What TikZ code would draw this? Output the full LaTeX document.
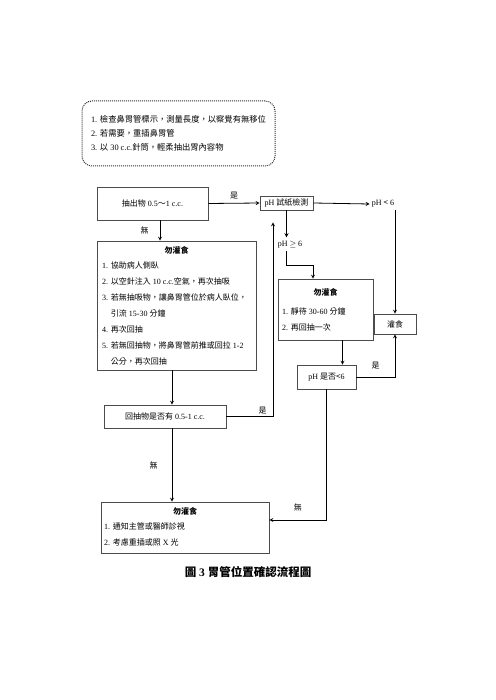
\documentclass[tikz,border=0pt]{standalone}
\usepackage{fontspec}
\setmainfont{Liberation Serif}
\newfontfamily\cjkfont{Noto Sans CJK TC}
\newcommand{\zh}[1]{{\cjkfont #1}}
\usetikzlibrary{positioning,arrows}

\begin{document}
\begin{tikzpicture}[x=1pt, y=-1pt,
    font=\fontsize{8}{10}\selectfont,
    box/.style={draw=black!70, line width=0.6pt, inner sep=0pt, align=center},
    dotbox/.style={draw=black!80, densely dotted, line width=1pt, rounded corners=10pt, align=left, inner sep=0pt},
    title/.style={font=\fontsize{8}{10}\selectfont\bfseries, inner sep=0pt},
    list/.style={anchor=north west, align=left, inner sep=0pt, font=\fontsize{8}{16}\selectfont},
    lbl/.style={inner sep=2pt},
    arrow/.style={->, >=stealth, line width=0.8pt}
]
    \fill[white] (0,0) rectangle (495,700);
    \useasboundingbox (0,0) rectangle (495,700);

    % steps before aspirating
    \node[dotbox, minimum width=193, minimum height=65, font=\fontsize{8.3}{14}\selectfont] (prep) at (178.5,133.5)
        {1. \zh{檢查鼻胃管標示，測量長度，以察覺有無移位}\\
         2. \zh{若需要，重插鼻胃管}\\
         3. \zh{以} 30 c.c.\zh{針筒，輕柔抽出胃內容物}};

    % main boxes
    \node[box, minimum width=111, minimum height=33] (aspirate) at (152.5,203.5) {\zh{抽出物} 0.5\zh{～}1 c.c.};
    \node[box, minimum width=53, minimum height=14] (phtest) at (286.5,203) {pH \zh{試紙檢測}};
    \node[lbl] (phlow) at (383,204) {pH \zh{<} 6};
    \node[lbl] (phhigh) at (290,245) {pH $\geq$ 6};
    \node[box, minimum width=42, minimum height=20] (feed) at (395,324) {\zh{灌食}};
    \node[box, minimum width=59, minimum height=24] (recheck) at (326.5,377) {pH \zh{是否<}6};
    \node[box, minimum width=122, minimum height=23] (reaspirate) at (165,416.5) {\zh{回抽物是否有} 0.5-1 c.c.};

    % no feeding: reposition
    \node[box, minimum width=159, minimum height=129] (hold1) at (176.5,305.5) {};
    \node[title, below=6pt of hold1.north] (hold1t) {\zh{勿灌食}};
    \node[list] (hold1l) at (102,261.5)
        {1. \zh{協助病人側臥}\\
         2. \zh{以空針注入} 10 c.c.\zh{空氣，再次抽吸}\\
         3. \zh{若無抽吸物，讓鼻胃管位於病人臥位，}\\
         \phantom{3. }\zh{引流} 15-30 \zh{分鐘}\\
         4. \zh{再次回抽}\\
         5. \zh{若無回抽物，將鼻胃管前推或回拉} 1-2\\
         \phantom{5. }\zh{公分，再次回抽}};

    % no feeding: wait
    \node[box, minimum width=95, minimum height=61] (hold2) at (325.5,309.5) {};
    \node[title, below=10pt of hold2.north] (hold2t) {\zh{勿灌食}};
    \node[list] (hold2l) at (282,307.5)
        {1. \zh{靜待} 30-60 \zh{分鐘}\\
         2. \zh{再回抽一次}};

    % no feeding: report
    \node[box, minimum width=168, minimum height=51] (hold3) at (185,527.5) {};
    \node[title, below=6pt of hold3.north] (hold3t) {\zh{勿灌食}};
    \node[list] (hold3l) at (104,523)
        {1. \zh{通知主管或醫師診視}\\
         2. \zh{考慮重插或照} X \zh{光}};

    \node[font=\fontsize{11.5}{14}\selectfont\bfseries] (caption) at (248,572) {\zh{圖} 3 \zh{胃管位置確認流程圖}};

    % connectors
    \coordinate (bend1) at (313,265);
    \draw[arrow] (aspirate.east) -- node[lbl, above=2pt] {\zh{是}} (phtest.west);
    \draw[arrow] (phtest.east) -- (phlow.west);
    \draw[arrow] (feed.north |- phlow.south) -- (feed.north);
    \draw[arrow, shorten >=2pt] (phtest.south) -- (phtest.south |- phhigh.north);
    \draw[arrow] (phtest.south |- phhigh.south) |- (bend1) -- (bend1 |- hold2.north);
    \draw[arrow] ([xshift=17pt]hold2.south) -- ([xshift=17pt]hold2.south |- recheck.north);
    \draw[arrow] (recheck.east) -| node[lbl, pos=0.25, above=5pt] {\zh{是}} (feed.south);
    \draw[arrow] (recheck.south) |- node[lbl, pos=0.75, above=6pt] {\zh{無}} ([yshift=7.5pt]hold3.east);
    \draw[arrow] ([xshift=7.5pt]aspirate.south) -- node[lbl, left=9pt] {\zh{無}} ([xshift=7.5pt]aspirate.south |- hold1.north);
    \draw[arrow] ([xshift=-4.5pt]hold1.south) -- ([xshift=-4.5pt]hold1.south |- reaspirate.north);
    \draw[arrow, shorten >=12pt] (reaspirate.east) -| node[lbl, pos=0.39, above] {\zh{是}} ([xshift=-13.5pt]phtest.south);
    \draw[arrow] ([xshift=7pt]reaspirate.south) -- node[lbl, left=12pt] {\zh{無}} ([xshift=7pt]reaspirate.south |- hold3.north);
\end{tikzpicture}
\end{document}
